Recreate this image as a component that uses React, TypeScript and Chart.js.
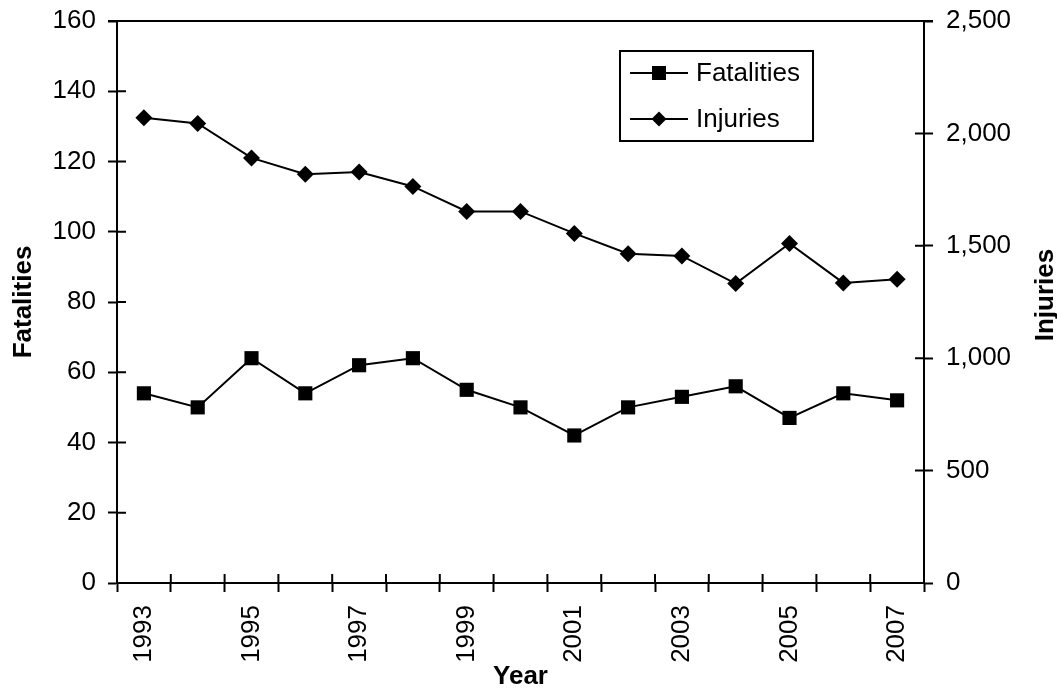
import React, { useEffect, useRef } from "react";
import { Chart, registerables } from "chart.js";

Chart.register(...registerables);

const years = ["1993", "1994", "1995", "1996", "1997", "1998", "1999", "2000", "2001", "2002", "2003", "2004", "2005", "2006", "2007"];
const fatalities = [54, 50, 64, 54, 62, 64, 55, 50, 42, 50, 53, 56, 47, 54, 52];
const injuries = [2070, 2044, 1891, 1818, 1828, 1764, 1653, 1653, 1555, 1465, 1455, 1332, 1510, 1335, 1351];

const FONT = "'Liberation Sans', Arial, sans-serif";
const TICK_SIZE = 26;
const TITLE_SIZE = 26;
const TICK_LEN = 9;

const crossTicks = {
  id: "crossTicks",
  afterDraw(chart: any) {
    const ctx = chart.ctx;
    const { left, right, top, bottom } = chart.chartArea;
    ctx.save();
    ctx.strokeStyle = "#000";
    ctx.lineWidth = 2;
    ctx.beginPath();
    // top border
    ctx.moveTo(left - TICK_LEN, top);
    ctx.lineTo(right + TICK_LEN, top);
    const y = chart.scales.y;
    y.ticks.forEach((_t: any, i: number) => {
      const p = y.getPixelForTick(i);
      ctx.moveTo(left, p);
      ctx.lineTo(left + TICK_LEN, p);
    });
    const y1 = chart.scales.y1;
    y1.ticks.forEach((_t: any, i: number) => {
      const p = y1.getPixelForTick(i);
      ctx.moveTo(right, p);
      ctx.lineTo(right - TICK_LEN, p);
    });
    const x = chart.scales.x;
    for (let i = 0; i <= years.length; i++) {
      const p = x.getPixelForValue(i - 0.5);
      ctx.moveTo(p, bottom);
      ctx.lineTo(p, bottom - TICK_LEN);
    }
    ctx.stroke();

    // right axis title
    ctx.fillStyle = "#000";
    ctx.font = `bold ${TITLE_SIZE}px ${FONT}`;
    ctx.textAlign = "center";
    ctx.textBaseline = "middle";
    ctx.translate(1046, 295);
    ctx.rotate(-Math.PI / 2);
    ctx.fillText("Injuries", 0, 0);
    ctx.restore();

    // legend
    ctx.save();
    ctx.strokeStyle = "#000";
    ctx.fillStyle = "#000";
    ctx.lineWidth = 2;
    ctx.strokeRect(620, 51, 193, 90);
    const rows = [
      { label: "Fatalities", y: 73, shape: "square" },
      { label: "Injuries", y: 119, shape: "diamond" },
    ];
    ctx.font = `${TICK_SIZE}px ${FONT}`;
    ctx.textAlign = "left";
    ctx.textBaseline = "middle";
    rows.forEach((r) => {
      ctx.beginPath();
      ctx.moveTo(630, r.y);
      ctx.lineTo(688, r.y);
      ctx.stroke();
      ctx.beginPath();
      if (r.shape === "square") {
        ctx.rect(652, r.y - 7, 14, 14);
      } else {
        ctx.moveTo(659, r.y - 7.5);
        ctx.lineTo(666.5, r.y);
        ctx.lineTo(659, r.y + 7.5);
        ctx.lineTo(651.5, r.y);
        ctx.closePath();
      }
      ctx.fill();
      ctx.fillText(r.label, 696, r.y + 1);
    });
    ctx.restore();
  },
};

export default function App() {
  const ref = useRef<HTMLCanvasElement | null>(null);
  useEffect(() => {
    document.body.style.margin = "0";
    const tickFont = { family: FONT, size: TICK_SIZE };
    const chart = new Chart(ref.current as HTMLCanvasElement, {
      type: "line",
      data: {
        labels: years,
        datasets: [
          {
            label: "Fatalities",
            data: fatalities,
            yAxisID: "y",
            borderColor: "#000",
            backgroundColor: "#000",
            borderWidth: 2,
            pointStyle: "rect",
            pointRadius: 10,
            pointBorderWidth: 0,
            pointBackgroundColor: "#000",
            tension: 0,
          },
          {
            label: "Injuries",
            data: injuries,
            yAxisID: "y1",
            borderColor: "#000",
            backgroundColor: "#000",
            borderWidth: 2,
            pointStyle: "rectRot",
            pointRadius: 8.5,
            pointBorderWidth: 0,
            pointBackgroundColor: "#000",
            tension: 0,
          },
        ],
      },
      options: {
        responsive: false,
        animation: false,
        layout: { padding: { top: 21, left: 0, right: 0, bottom: 0 } },
        plugins: { legend: { display: false }, tooltip: { enabled: false } },
        scales: {
          x: {
            type: "category",
            offset: true,
            grid: {
              offset: true,
              drawOnChartArea: false,
              drawTicks: true,
              tickLength: TICK_LEN,
              tickColor: "#000",
              tickWidth: 2,
            },
            border: { display: true, color: "#000", width: 2 },
            ticks: {
              autoSkip: false,
              minRotation: 90,
              maxRotation: 90,
              padding: 13,
              color: "#000",
              font: tickFont,
              callback: (_v: any, i: number) => (i % 2 === 0 ? years[i] : ""),
            },
            title: {
              display: true,
              text: "Year",
              color: "#000",
              font: { family: FONT, size: TITLE_SIZE, weight: "bold" },
              padding: { top: 0, bottom: -2 },
            },
            afterFit: (s: any) => {
              s.height = 107;
              s.paddingLeft = 0;
              s.paddingRight = 0;
            },
          },
          y: {
            position: "left",
            min: 0,
            max: 160,
            grid: {
              drawOnChartArea: false,
              tickLength: TICK_LEN,
              tickColor: "#000",
              tickWidth: 2,
            },
            border: { display: true, color: "#000", width: 2 },
            ticks: { stepSize: 20, padding: 12, color: "#000", font: tickFont },
            title: {
              display: true,
              text: "Fatalities",
              color: "#000",
              font: { family: FONT, size: TITLE_SIZE, weight: "bold" },
              padding: { top: 8, bottom: 0 },
            },
            afterFit: (s: any) => {
              s.width = 117;
              s.paddingTop = 0;
              s.paddingBottom = 0;
            },
          },
          y1: {
            position: "right",
            min: 0,
            max: 2500,
            grid: {
              drawOnChartArea: false,
              tickLength: TICK_LEN,
              tickColor: "#000",
              tickWidth: 2,
            },
            border: { display: true, color: "#000", width: 2 },
            ticks: {
              stepSize: 500,
              padding: 13,
              color: "#000",
              font: tickFont,
              callback: (v: any) => Number(v).toLocaleString("en-US"),
            },
            afterFit: (s: any) => {
              s.width = 133;
              s.paddingTop = 0;
              s.paddingBottom = 0;
            },
          },
        },
      },
      plugins: [crossTicks],
    } as any);
    return () => chart.destroy();
  }, []);
  return (
    <div style={{ position: "fixed", left: 0, top: 0, width: 1057, height: 690 }}>
      <canvas ref={ref} width={1057} height={690} style={{ display: "block" }} />
    </div>
  );
}
